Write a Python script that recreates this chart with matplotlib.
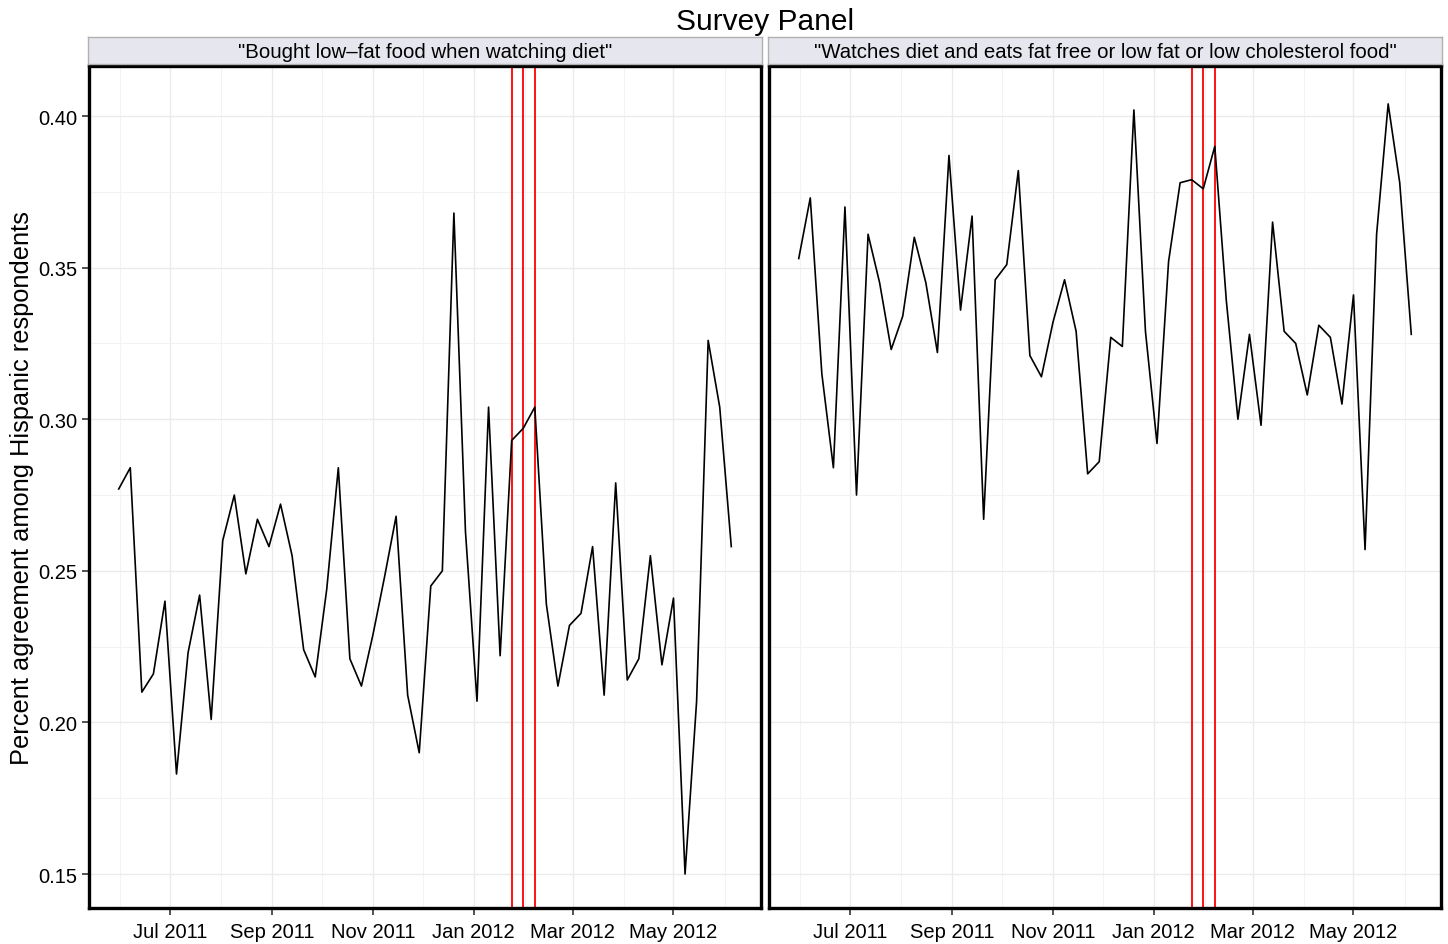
import numpy as np
import matplotlib
matplotlib.use("Agg")
from matplotlib import pyplot as plt
import matplotlib.dates as mdates

plt.rcParams['font.family'] = ['Liberation Sans', 'DejaVu Sans']

# Dados semanais
datas = np.arange(np.datetime64('2011-05-31'), np.datetime64('2011-05-31') + np.timedelta64(54 * 7, 'D'),
                  np.timedelta64(7, 'D'))

comprou_baixo_teor = [
    0.277, 0.284, 0.210, 0.216, 0.240, 0.183, 0.223, 0.242, 0.201, 0.260,
    0.275, 0.249, 0.267, 0.258, 0.272, 0.255, 0.224, 0.215, 0.244, 0.284,
    0.221, 0.212, 0.229, 0.248, 0.268, 0.209, 0.190, 0.245, 0.250, 0.368,
    0.263, 0.207, 0.304, 0.222, 0.293, 0.297, 0.304, 0.239, 0.212, 0.232,
    0.236, 0.258, 0.209, 0.279, 0.214, 0.221, 0.255, 0.219, 0.241, 0.150,
    0.207, 0.326, 0.304, 0.258,
]

observa_dieta = [
    0.353, 0.373, 0.315, 0.284, 0.370, 0.275, 0.361, 0.345, 0.323, 0.334,
    0.360, 0.345, 0.322, 0.387, 0.336, 0.367, 0.267, 0.346, 0.351, 0.382,
    0.321, 0.314, 0.332, 0.346, 0.329, 0.282, 0.286, 0.327, 0.324, 0.402,
    0.329, 0.292, 0.352, 0.378, 0.379, 0.376, 0.390, 0.339, 0.300, 0.328,
    0.298, 0.365, 0.329, 0.325, 0.308, 0.331, 0.327, 0.305, 0.341, 0.257,
    0.361, 0.404, 0.378, 0.328,
]

titulos = ['"Bought low\u2013fat food when watching diet"',
           '"Watches diet and eats fat free or low fat or low cholesterol food"']

eventos = np.array(['2012-01-24', '2012-01-31', '2012-02-07'], dtype='datetime64[D]')

yticks = [0.15, 0.20, 0.25, 0.30, 0.35, 0.40]

W, H = 1448, 945
fig = plt.figure(figsize=(W / 100, H / 100), dpi=100)


def caixa(x0, y0, x1, y1):
    # converte pixels (topo-esquerda) em coordenadas da figura
    return [x0 / W, 1 - y1 / H, (x1 - x0) / W, (y1 - y0) / H]


paineis = [(89, 761), (769, 1441)]
series = [comprou_baixo_teor, observa_dieta]

span = datas[-1] - datas[0]
xmin = datas[0] - span * 0.05
xmax = datas[-1] + span * 0.05

for i, ((x0, x1), valores, titulo) in enumerate(zip(paineis, series, titulos)):
    ax = fig.add_axes(caixa(x0, 67, x1, 909))
    ax.set_xlim(xmin, xmax)
    ax.set_ylim(0.1388, 0.4165)

    ax.xaxis.set_major_locator(mdates.MonthLocator(bymonth=[1, 3, 5, 7, 9, 11]))
    ax.xaxis.set_minor_locator(mdates.MonthLocator(bymonth=[2, 4, 6, 8, 10, 12]))
    ax.xaxis.set_major_formatter(mdates.DateFormatter('%b %Y'))
    ax.set_yticks(yticks)
    ax.set_yticks([0.175, 0.225, 0.275, 0.325, 0.375], minor=True)

    ax.grid(True, which='major', color='#ebebeb', linewidth=1.0)
    ax.grid(True, which='minor', color='#f3f3f3', linewidth=0.8)
    ax.set_axisbelow(True)

    for d in eventos:
        ax.axvline(d, color='red', linewidth=1.3, zorder=2)
    ax.plot(datas, valores, color='black', linewidth=1.2, zorder=3)

    for s in ax.spines.values():
        s.set_linewidth(2.4)
        s.set_color('black')

    ax.tick_params(axis='both', which='major', labelsize=14.5, length=5, width=1.2, color='#333333',
                   labelcolor='black')
    ax.tick_params(axis='x', which='major', pad=5)
    ax.tick_params(axis='both', which='minor', length=0)
    ax.yaxis.set_major_formatter(plt.FuncFormatter(lambda v, p: f"{v:.2f}"))
    if i == 1:
        ax.tick_params(axis='y', which='both', left=False, labelleft=False)

    # faixa do título do painel
    st = fig.add_axes(caixa(x0 - 1, 38, x1 + 1, 65))
    st.set_facecolor('#e6e6ee')
    st.set_xticks([])
    st.set_yticks([])
    for s in st.spines.values():
        s.set_color('#b0b0b0')
        s.set_linewidth(1.0)
    st.text(0.5, 0.45, titulo, ha='center', va='center', fontsize=14.7, transform=st.transAxes)

fig.text(765 / W, 1 - 22 / H, 'Survey Panel', ha='center', va='center', fontsize=21.5)
fig.text(22 / W, 1 - 488 / H, 'Percent agreement among Hispanic respondents', rotation=90,
         ha='center', va='center', fontsize=18.3)

plt.savefig('out.png', dpi=100)
